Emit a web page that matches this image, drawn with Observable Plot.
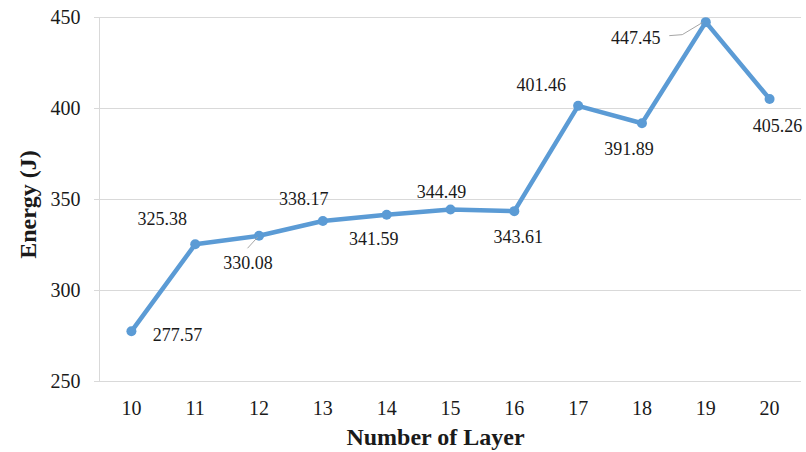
<!DOCTYPE html>
<html>
<head>
<meta charset="utf-8">
<script src="https://cdn.jsdelivr.net/npm/d3@7"></script>
<script src="https://cdn.jsdelivr.net/npm/@observablehq/plot@0.6"></script>
<style>
  html, body { margin: 0; padding: 0; background: #fff; }
  #chart svg { display: block; }
</style>
</head>
<body>
<div id="chart"></div>
<script>
const layers = ["10", "11", "12", "13", "14", "15", "16", "17", "18", "19", "20"];
const energy = [277.57, 325.38, 330.08, 338.17, 341.59, 344.49, 343.61, 401.46, 391.89, 447.45, 405.26];
const yTicks = [250, 300, 350, 400, 450];
const xTitle = "Number of Layer";
const yTitle = "Energy (J)";

const data = layers.map((l, i) => ({layer: l, energy: energy[i], label: energy[i].toFixed(2)}));

// annotation layout (pixel offsets of each value label from its point)
const labelOffsets = [[46, 4], [-33, -25], [-11, 27], [-19, -22], [-13, 24], [-9, -17], [4, 26], [-37, -21], [-13, 26], [-70, 16], [8, 27]];
// leader lines (pixel offsets from the point) for labels 12 and 19
const leaders = {"12": [[-1, 2], [-11, 13]], "19": [[-3, 1], [-23, 13], [-36, 14]]};

const blue = "#5B9BD5";
const grid = "#D9D9D9";
const ink = "#1a1a1a";
const serif = "Liberation Serif";

const labelMarks = data.map((d, i) => Plot.text([d], {
  x: "layer", y: "energy", text: "label",
  dx: labelOffsets[i][0], dy: labelOffsets[i][1],
  fontSize: 18, fill: ink, textAnchor: "middle", fontFamily: serif
}));

const leaderMark = (index, scales) => {
  const g = d3.create("svg:g");
  data.forEach(d => {
    const pts = leaders[d.layer];
    if (!pts) return;
    const px = scales.x(d.layer), py = scales.y(d.energy);
    g.append("path")
      .attr("d", d3.line()(pts.map(([ox, oy]) => [px + ox, py + oy])))
      .attr("fill", "none")
      .attr("stroke", "#A6A6A6")
      .attr("stroke-width", 1);
  });
  return g.node();
};

const chart = Plot.plot({
  width: 806,
  height: 452,
  marginLeft: 99,
  marginRight: 5,
  marginTop: 17,
  marginBottom: 71,
  style: {fontFamily: serif, background: "#fff", color: ink},
  x: {type: "point", domain: layers, padding: 0.5, round: false, label: null},
  y: {domain: [250, 450], label: null},
  marks: [
    Plot.ruleY(yTicks, {stroke: grid, strokeWidth: 1, insetLeft: -5}),
    Plot.frame({anchor: "left", stroke: grid, strokeWidth: 1}),
    Plot.axisY({ticks: yTicks, tickSize: 0, tickPadding: 19, fontSize: 20, fill: ink, label: null, fontFamily: serif}),
    Plot.axisX({tickSize: 0, tickPadding: 19, fontSize: 20, fill: ink, label: null, fontFamily: serif}),
    Plot.text([xTitle], {frameAnchor: "bottom", textAnchor: "middle", lineAnchor: "middle", dx: -15, dy: 56, fontSize: 24, fontWeight: "bold", fill: ink, fontFamily: serif}),
    Plot.text([yTitle], {frameAnchor: "left", textAnchor: "middle", lineAnchor: "middle", rotate: -90, dx: -71, dy: 5, fontSize: 24, fontWeight: "bold", fill: ink, fontFamily: serif}),
    Plot.line(data, {x: "layer", y: "energy", stroke: blue, strokeWidth: 4.5, strokeLinejoin: "round", strokeLinecap: "round"}),
    Plot.dot(data, {x: "layer", y: "energy", r: 5, fill: blue, stroke: "none"}),
    leaderMark,
    ...labelMarks
  ]
});
document.getElementById("chart").appendChild(chart);
</script>
</body>
</html>
